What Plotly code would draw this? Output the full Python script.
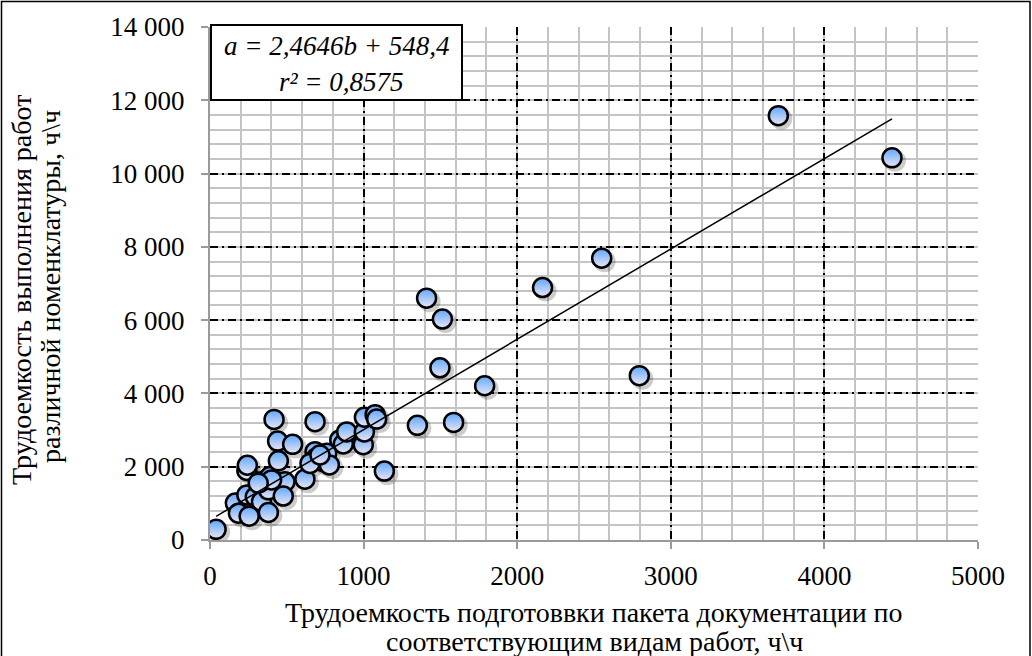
import plotly.graph_objects as go

# Трудоемкость подготовки пакета документации (b), ч\ч
b_vals = [40, 165, 185, 255, 240, 295, 335, 380, 380, 330, 390, 240, 243, 445,
          440, 417, 538, 488, 477, 618, 684, 684, 690, 738, 760, 777, 845, 868,
          890, 998, 1005, 1005, 1075, 1085, 1135, 1350, 1410, 1497, 1513, 1586,
          1788, 2165, 2550, 2795, 3700, 4440, 401, 314, 651, 716]
# Трудоемкость выполнения работ (a), ч\ч
a_vals = [290, 1010, 730, 650, 1230, 1180, 1050, 750, 1370, 1590, 1730, 1900,
          2040, 2160, 2700, 3290, 2610, 1590, 1200, 1660, 3230, 2410, 2230, 2140,
          2370, 2050, 2730, 2620, 2950, 2600, 2950, 3350, 3420, 3300, 1880, 3130,
          6600, 4700, 6030, 3210, 4210, 6890, 7690, 4485, 11580, 10430, 1640,
          1550, 2090, 2320]

slope = 2.4646
intercept = 548.4
r2 = 0.8575

x_ticks = [0, 1000, 2000, 3000, 4000, 5000]
y_ticks = [0, 2000, 4000, 6000, 8000, 10000, 12000, 14000]
y_ticktext = ["0", "2 000", "4 000", "6 000", "8 000", "10 000", "12 000", "14 000"]

x_title_1 = "Трудоемкость подготоввки пакета документации по"
x_title_2 = "соответствующим видам работ, ч\\ч"
y_title_1 = "Трудоемкость выполнения работ"
y_title_2 = "различной номенклатуры, ч\\ч"
eq_line1 = "a = 2,4646b + 548,4"
eq_line2 = "r² = 0,8575"

FONT = "'Liberation Serif', 'Times New Roman', 'DejaVu Serif', serif"
W, H = 1032, 656
L, R, T, B = 210, 54, 27, 116
pw, ph = W - L - R, H - T - B
X0, X1 = 0, 5000
Y0, Y1 = 0, 14000
dx = 3 * (X1 - X0) / pw
dy = 3 * (Y1 - Y0) / ph
DASHDOT = "8px,4px,2px,4px"

tx = [min(b_vals), max(b_vals)]
ty = [slope * v + intercept for v in tx]

fig = go.Figure()
# anchor trace for the base axes (invisible)
fig.add_trace(go.Scatter(x=b_vals, y=a_vals, mode="markers",
                         marker=dict(size=1, opacity=0), hoverinfo="skip", showlegend=False))
# shadow
fig.add_trace(go.Scatter(x=b_vals, y=a_vals, mode="markers", xaxis="x2", yaxis="y2",
                         marker=dict(size=22, color="rgba(0,0,0,0.2)", line=dict(width=0)),
                         hoverinfo="skip", showlegend=False))
# points
fig.add_trace(go.Scatter(x=b_vals, y=a_vals, mode="markers", xaxis="x3", yaxis="y3",
                         marker=dict(size=19, color="#5ea8ff",
                                     gradient=dict(type="vertical", color="#ece6f2"),
                                     line=dict(width=2.5, color="black")),
                         showlegend=False))
# trend line
fig.add_trace(go.Scatter(x=tx, y=ty, mode="lines", xaxis="x3", yaxis="y3",
                         line=dict(color="black", width=1.5), showlegend=False))

axis_common = dict(showline=True, linecolor="#9a9a9a", linewidth=2, zeroline=False,
                   ticks="outside", ticklen=7, tickwidth=2, tickcolor="#9a9a9a",
                   showgrid=True, gridcolor="black", gridwidth=1.75, griddash=DASHDOT,
                   tickfont=dict(family=FONT, size=27, color="black"))

fig.update_layout(
    width=W, height=H, margin=dict(l=L, r=R, t=T, b=B),
    paper_bgcolor="white", plot_bgcolor="white", showlegend=False,
    font=dict(family=FONT),
    xaxis=dict(range=[X0, X1], tickvals=x_ticks, ticktext=[str(v) for v in x_ticks],
               ticklabelstandoff=4,
               minor=dict(dtick=200, showgrid=True, gridcolor="#c4c4c4", gridwidth=1.5,
                          griddash="solid", ticks=""),
               **axis_common),
    yaxis=dict(range=[Y0, Y1], tickvals=y_ticks, ticktext=y_ticktext,
               ticklabelstandoff=11,
               minor=dict(dtick=400, showgrid=True, gridcolor="#c4c4c4", gridwidth=1.5,
                          griddash="solid", ticks=""),
               **axis_common),
    xaxis2=dict(overlaying="x", range=[X0 - dx, X1 - dx], visible=False),
    yaxis2=dict(overlaying="y", range=[Y0 + dy, Y1 + dy], visible=False),
    xaxis3=dict(overlaying="x", range=[X0, X1], visible=False),
    yaxis3=dict(overlaying="y", range=[Y0, Y1], visible=False),
)

def px2paper_x(px):
    return (px - L) / pw

def py2paper_y(py):
    return (H - B - py) / ph

shapes = [
    dict(type="rect", xref="paper", yref="paper", layer="above",
         x0=px2paper_x(211), x1=px2paper_x(462), y0=py2paper_y(100), y1=py2paper_y(25),
         line=dict(color="black", width=2), fillcolor="white"),
    dict(type="rect", xref="paper", yref="paper", layer="above",
         x0=px2paper_x(1.5), x1=px2paper_x(1030), y0=py2paper_y(700), y1=py2paper_y(1.5),
         line=dict(color="black", width=1.5), fillcolor="rgba(0,0,0,0)"),
]
fig.update_layout(shapes=shapes)

eq_font = dict(family=FONT, size=27, color="black")
t_font = dict(family=FONT, size=28, color="black")

def ann(text, px, py, font, angle=0, xanchor="center"):
    fig.add_annotation(xref="paper", yref="paper", x=px2paper_x(px), y=py2paper_y(py),
                       xanchor=xanchor, yanchor="middle", showarrow=False, textangle=angle,
                       text=text, font=font)

ann("<i>" + eq_line1 + "</i>", 336, 46, eq_font)
ann("<i>" + eq_line2 + "</i>", 341, 82, eq_font)
ann(x_title_1, 594, 612, t_font)
ann(x_title_2, 594, 641, t_font)
ann(y_title_1, 21, 290, t_font, angle=-90)
ann(y_title_2, 50, 287, t_font, angle=-90)

fig.write_html("out.html")
